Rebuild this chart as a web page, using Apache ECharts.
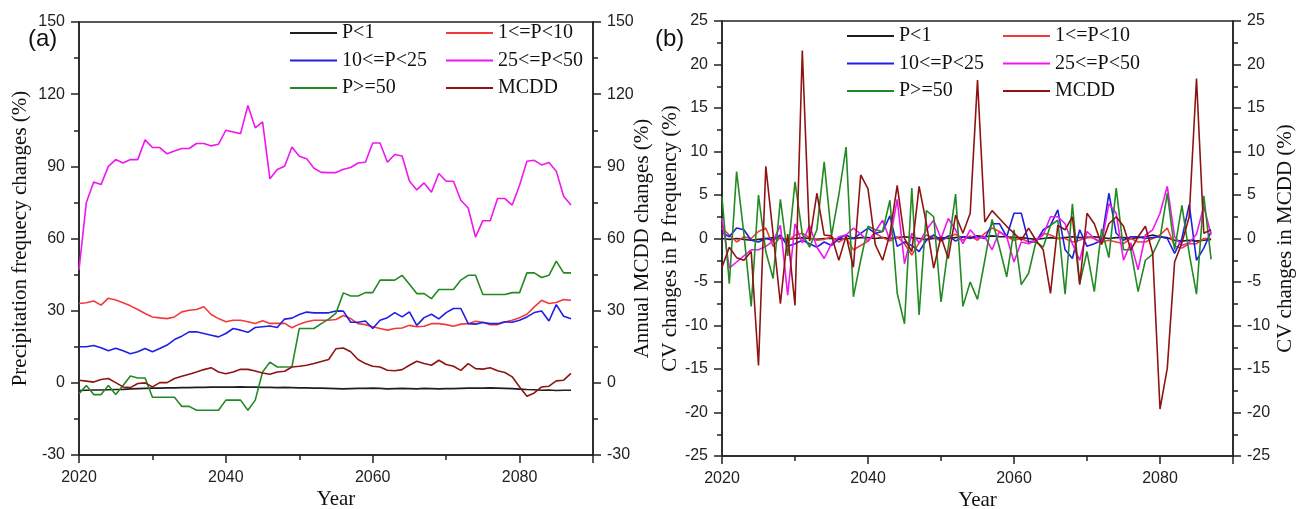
<!DOCTYPE html>
<html>
<head>
<meta charset="utf-8">
<script src="https://cdn.jsdelivr.net/npm/echarts@6/dist/echarts.min.js"></script>
<style>
  html, body { margin: 0; padding: 0; background: #ffffff; }
  #chart { width: 1296px; height: 509px; }
</style>
</head>
<body>
<div id="chart"></div>
<script>
// Years covered by every series
const startYear = 2020;
const endYear = 2087;

const seriesNames = ['P<1', '1<=P<10', '10<=P<25', '25<=P<50', 'P>=50', 'MCDD'];

// (a) Precipitation frequency changes (%) and annual MCDD changes (%)
const aP1 = [
  -3.2, -3.1, -3.0, -3.0, -2.9, -2.8, -2.7, -2.5, -2.4, -2.3,
  -2.2, -2.2, -2.1, -2.1, -2.0, -2.0, -1.9, -1.9, -1.8, -1.8,
  -1.8, -1.8, -1.7, -1.8, -1.8, -1.9, -1.9, -2.0, -1.9, -2.0,
  -2.1, -2.1, -2.2, -2.2, -2.3, -2.4, -2.5, -2.4, -2.3, -2.3,
  -2.2, -2.3, -2.5, -2.4, -2.3, -2.4, -2.5, -2.3, -2.4, -2.5,
  -2.4, -2.4, -2.3, -2.2, -2.2, -2.2, -2.1, -2.2, -2.3, -2.4,
  -2.6, -2.8, -2.9, -3.1, -3.0, -3.2, -3.1, -3.1
];
const aP1to10 = [
  33, 33.3, 34, 32.3, 35.2, 34.4, 33.3, 32, 30.5, 28.8,
  27.4, 27, 26.7, 27.4, 29.5, 30.2, 30.5, 31.6, 28.4, 26.7,
  25.4, 26, 26, 25.4, 24.7, 25.8, 24.7, 24.7, 24.7, 22.9,
  24.4, 25.4, 26, 26, 26, 26.3, 28, 26.7, 24.6, 24.2,
  23.3, 22.6, 21.9, 22.6, 22.8, 23.9, 23.3, 23.5, 24.6, 24.6,
  24.2, 23.5, 24.4, 24.6, 25.6, 25.2, 24.2, 24.2, 25.3, 26,
  27.1, 28.5, 31.6, 34.3, 33, 33.4, 34.6, 34.3
];
const aP10to25 = [
  15, 15, 15.5, 14.6, 13.3, 14.4, 13.3, 12.1, 12.9, 14.3,
  12.9, 14.3, 15.7, 18, 19.4, 21.2, 21.2, 20.5, 19.8, 19.1,
  20.5, 22.6, 21.9, 21, 23, 23.3, 23.6, 23, 26.5, 26.9,
  28.4, 29.4, 29.1, 29.1, 29.1, 29.9, 29.8, 25.2, 25.2, 25.7,
  22.6, 26, 27.1, 29.2, 27.4, 29.5, 23.9, 27.1, 28.5, 26.6,
  29.2, 30.9, 30.9, 24.6, 24.4, 25.1, 24.6, 24.6, 25.4, 25.2,
  26, 27.4, 29.2, 29.9, 25.7, 32.5, 27.7, 26.6
];
const aP25to50 = [
  47, 75, 83.5, 82.4, 90, 92.8, 91.4, 92.8, 92.8, 101,
  97.8, 97.8, 95.2, 96.4, 97.4, 97.4, 99.5, 99.5, 98.5, 99.2,
  105, 104.3, 103.6, 115.3, 106, 108.5, 84.8, 88.7, 90, 98,
  94.2, 93.2, 89.2, 87.5, 87.4, 87.4, 88.8, 89.5, 91.4, 91.7,
  99.7, 99.7, 91.7, 94.9, 94.3, 83.9, 80.2, 83.1, 79.2, 87,
  83.8, 83.8, 75.9, 72.7, 60.6, 67.4, 67.4, 76.6, 76.6, 73.9,
  82.1, 92.1, 92.5, 90.6, 91.6, 88, 77.6, 73.9
];
const aP50 = [
  -4.5, -1.1, -4.9, -4.9, -1.1, -4.9, -1.1, 2.8, 2.0, 2.0,
  -6, -6, -6, -6, -9.8, -9.8, -11.4, -11.4, -11.4, -11.4,
  -7.2, -7.2, -7.2, -11.4, -7.2, 4.5, 8.6, 6.6, 6.6, 6.7,
  22.6, 22.6, 22.6, 24.6, 26.5, 29, 37.4, 36.1, 36.1, 37.5,
  37.5, 42.7, 42.7, 42.7, 44.7, 41, 37.1, 37.1, 35, 38.8,
  38.8, 38.8, 42.7, 44.7, 44.7, 36.7, 36.7, 36.7, 36.7, 37.5,
  37.5, 45.7, 45.7, 43.8, 44.7, 50.6, 45.7, 45.7
];
const aMCDD = [
  1.1, 0.7, 0.3, 1.4, 1.8, 0.1, -1.7, -2, -0.3, 0,
  -1.7, 0.1, 0.1, 1.8, 2.7, 3.6, 4.5, 5.5, 6.3, 4.5,
  3.8, 4.5, 5.6, 5.6, 4.9, 4.1, 3.6, 4.5, 4.8, 6.6,
  6.9, 7.3, 8, 8.9, 9.7, 14.2, 14.5, 12.9, 9.7, 8,
  6.9, 6.6, 5.2, 5, 5.5, 7.3, 9, 8, 7.3, 9.4,
  7.6, 6.9, 5.2, 8, 5.9, 5.7, 6.3, 5, 4.3, 2.5,
  -1.7, -5.6, -4.2, -1.7, -1.4, 0.8, 1.1, 3.9
];

// (b) CV changes in P frequency (%) and in MCDD (%)
const bP1 = [
  0, -0.1, 0, -0.1, -0.2, -0.1, 0, 0.1, 0, -0.1,
  0, 0.1, 0, -0.1, 0, 0, -0.1, 0, 0, 0.1,
  0.1, 0, 0.1, 0, 0.1, 0.2, 0.1, 0, -0.1, 0,
  0.1, 0, 0.1, 0.2, 0.1, 0.3, 0.2, 0.3, 0.2, 0.2,
  0.1, 0.1, 0, -0.1, 0, 0.1, 0, 0.1, 0.2, 0.1,
  0.1, 0.2, 0.1, 0, 0.1, 0.1, 0, 0.1, 0.2, 0.4,
  0.2, 0.1, -0.2, -0.3, -0.2, -0.3, -0.2, -0.1
];
const bP1to10 = [
  1.2, 0.4, -0.4, 0.2, 0, 0.8, 1.2, -0.9, 0.2, -0.3,
  0.4, 0.6, 0.1, -0.2, -0.1, 0.2, -0.4, 0.1, -1.3, -0.8,
  -0.3, 0.6, 0.1, -0.3, 0.2, -0.6, -1.9, -0.5, 0.4, 0.1,
  -0.3, 0.2, 0.5, -0.2, 0.3, -0.2, 0.6, 1.2, 0.8, 0.2,
  -0.2, 0, -0.4, -0.2, 0.6, 0.4, 0, 0, -0.4, -0.2,
  0.2, 0, -0.4, -0.2, -0.4, -0.6, 0, -0.4, -0.4, 0,
  0.4, 1.2, -0.9, -1.1, -0.6, -0.6, 0, 0
];
const bP10to25 = [
  0.7, 0.2, 1.2, 1.0, -0.2, -0.4, 0, -0.2, 0.4, -0.9,
  -0.6, -0.2, -0.6, -1.0, -0.4, -0.8, 0, 0.4, 0, 0.6,
  1.2, 0.6, 0.8, 2.6, -0.9, -0.4, -0.8, -1.5, -0.2, 0.4,
  -0.2, 0.3, -0.3, 0.2, 0, 0.2, 0, 1.7, 1.7, 0.2,
  2.9, 2.9, -0.4, -0.4, 1.0, 1.5, 3.3, -1.3, -2.3, 1.0,
  -0.9, -0.6, -0.2, 5.2, 0.6, -0.2, 0.2, 0.2, 0, 0.1,
  0.2, 0, -1.7, 0, 3.9, -2.5, -1.1, 0.8
];
const bP25to50 = [
  2.3, -3.4, -2.7, -2.0, -1.3, -1.3, -0.9, -0.3, 1.5, -6.5,
  1.7, -0.5, 1.5, -1.0, -2.3, -0.6, 0.2, 0.4, 1.2, 0.5,
  -0.3, 0.8, 2.1, -0.2, 4.5, -2.9, 0.6, -0.5, 1.0, 2.1,
  0, 2.3, 1.0, -0.6, 1.0, 0, 0.2, -1.3, 0.8, 0.2,
  -2.7, -0.4, -0.6, -0.2, 0.4, 2.5, 2.5, 1.7, -0.6, -2.5,
  0.8, 0, -0.6, 4.0, 2.9, -2.5, -0.5, -3.6, 0.4, 1.0,
  2.9, 6.0, 0.2, -0.8, -0.5, 0.5, 3.7, 0.4
];
const bP50 = [
  4.8, -5.2, 7.7, 0.5, -7.8, 5.0, -1.5, -4.6, 4.5, -2,
  6.5, 0.5, -1, 1, 8.8, 0.3, 5, 10.5, -6.7, -2.5,
  1.4, 1.0, 0.8, 4.4, -6.3, -9.8, 5.8, -8.8, 3.2, 2.5,
  -7.3, -1, 5.1, -7.8, -5, -7.0, -2.5, 2.2, -1, -4.4,
  1, -5.3, -4, -0.4, -1, 1.5, 2.1, -6.4, 4.0, -5.2,
  -1.5, -6.1, 1.1, -2.2, 5.8, -1.3, -1.3, -6.1, -2.5, -1.8,
  0, 5.2, -1.3, 3.8, -1.7, -6.4, 4.9, -2.4
];
const bMCDD = [
  -3.3, -1.0, -2.2, -2.5, -1.5, -14.6, 8.3, 0.5, -7.5, 0.5,
  -7.7, 21.6, -0.3, 5.2, 0.4, 0.3, -2.5, 0.3, -3.3, 7.3,
  5.7, -0.7, -2.5, 0.5, 6.1, 0, -1.5, 6.0, 1.7, -3.4,
  0.2, -2.3, 2.7, 0.6, 2.9, 18.2, 1.9, 3.2, 2.3, 1.4,
  0.6, -0.2, 1.2, -0.2, -1.3, -6.3, 1.5, 1.0, 2.5, -5.3,
  2.9, 1.7, -0.7, 1.7, 2.5, 1.4, -1.3, 0.2, 1.4, -1.7,
  -19.6, -14.9, -2.7, -0.5, 2.5, 18.4, 0.6, 1.0
];

// Axis ranges and tick steps
const xRange = [2020, 2090];
const aRange = [-30, 150];
const bRange = [-25, 25];

const colors = {
  'P<1': '#1e1e1e',
  '1<=P<10': '#f23a3a',
  '10<=P<25': '#1f1fe6',
  '25<=P<50': '#f016f0',
  'P>=50': '#238a23',
  'MCDD': '#8e1414'
};

const sansFont = 'Liberation Sans, Arial, sans-serif';
const serifFont = 'Liberation Serif, Times New Roman, serif';
const ink = '#222';

const years = [];
for (let y = startYear; y <= endYear; y++) years.push(y);
const pairs = vals => vals.map((v, i) => [years[i], v]);

function xMain(grid) {
  return {
    type: 'value', gridIndex: grid, min: xRange[0], max: xRange[1], interval: 20,
    position: 'bottom',
    name: 'Year', nameLocation: 'middle', nameGap: 34, nameMoveOverlap: false,
    nameTextStyle: { fontFamily: serifFont, fontSize: 21, color: '#111' },
    axisLine: { show: true, onZero: false, lineStyle: { color: ink, width: 1.5 } },
    axisTick: { show: true, inside: false, length: 8, lineStyle: { color: ink, width: 1.5 } },
    axisLabel: {
      margin: 15, fontFamily: sansFont, fontSize: 16, color: ink,
      formatter: v => (v % 20 === 0 && v < 2090 ? String(v) : '')
    },
    splitLine: { show: false }
  };
}
// Short ticks every 10 years along the bottom edge
function xMinor(grid) {
  return {
    type: 'value', gridIndex: grid, min: xRange[0], max: xRange[1], interval: 10,
    position: 'bottom',
    axisLine: { show: false, onZero: false },
    axisTick: { show: true, inside: false, length: 5, lineStyle: { color: ink, width: 1.5 } },
    axisLabel: { show: false },
    splitLine: { show: false }
  };
}
function yAxis(grid, pos, range, step, name, gap) {
  return {
    type: 'value', gridIndex: grid, position: pos, min: range[0], max: range[1], interval: step,
    name: name, nameLocation: 'middle', nameGap: gap, nameRotate: 90, nameMoveOverlap: false,
    nameTextStyle: { fontFamily: serifFont, fontSize: 21, color: '#111' },
    axisLine: { show: true, onZero: false, lineStyle: { color: ink, width: 1.5 } },
    axisTick: { show: true, inside: false, length: 8, lineStyle: { color: ink, width: 1.5 } },
    minorTick: { show: true, splitNumber: 2, length: 5, lineStyle: { color: ink, width: 1.5 } },
    axisLabel: { margin: 14, fontFamily: sansFont, fontSize: 16, color: ink },
    splitLine: { show: false },
    minorSplitLine: { show: false }
  };
}

function lines(dataSets, xIdx, yLeft, yRight) {
  return seriesNames.map((name, i) => ({
    name: name,
    type: 'line',
    xAxisIndex: xIdx,
    yAxisIndex: name === 'MCDD' ? yRight : yLeft,
    data: pairs(dataSets[i]),
    symbol: 'none',
    smooth: false,
    lineStyle: { color: colors[name], width: 1.6 },
    itemStyle: { color: colors[name] },
    animation: false,
    z: 2 + i
  }));
}

function legendColumn(names, left, top, gap) {
  return {
    data: names, orient: 'vertical', left: left, top: top,
    icon: 'rect', itemWidth: 47, itemHeight: 2, itemGap: gap,
    textStyle: { fontFamily: serifFont, fontSize: 20, color: '#111' },
    selectedMode: false
  };
}

const chart = echarts.init(document.getElementById('chart'), null, { renderer: 'canvas' });
chart.setOption({
  backgroundColor: '#ffffff',
  animation: false,
  title: [
    { text: '(a)', left: 23, top: 22, textStyle: { fontFamily: sansFont, fontSize: 24, fontWeight: 'normal', color: '#111' } },
    { text: '(b)', left: 650, top: 22, textStyle: { fontFamily: sansFont, fontSize: 24, fontWeight: 'normal', color: '#111' } }
  ],
  grid: [
    { left: 79, right: 703, top: 22, bottom: 54, outerBoundsMode: 'none', containLabel: false,
      show: true, borderColor: ink, borderWidth: 1.5, backgroundColor: 'transparent' },
    { left: 722, right: 63, top: 21, bottom: 53, outerBoundsMode: 'none', containLabel: false,
      show: true, borderColor: ink, borderWidth: 1.5, backgroundColor: 'transparent' }
  ],
  legend: [
    legendColumn(['P<1', '10<=P<25', 'P>=50'], 285, 18, 7.5),
    legendColumn(['1<=P<10', '25<=P<50', 'MCDD'], 441, 18, 7.5),
    legendColumn(['P<1', '10<=P<25', 'P>=50'], 842, 21, 7.5),
    legendColumn(['1<=P<10', '25<=P<50', 'MCDD'], 998, 21, 7.5)
  ],
  xAxis: [xMain(0), xMinor(0), xMain(1), xMinor(1)],
  yAxis: [
    yAxis(0, 'left', aRange, 30, 'Precipitation frequecy changes (%)', 48),
    yAxis(0, 'right', aRange, 30, 'Annual MCDD changes (%)', 39),
    yAxis(1, 'left', bRange, 5, 'CV changes in P frequency (%)', 41),
    yAxis(1, 'right', bRange, 5, 'CV changes in MCDD (%)', 42)
  ],
  series: [
    ...lines([aP1, aP1to10, aP10to25, aP25to50, aP50, aMCDD], 0, 0, 1),
    ...lines([bP1, bP1to10, bP10to25, bP25to50, bP50, bMCDD], 2, 2, 3)
  ]
});
</script>
</body>
</html>
